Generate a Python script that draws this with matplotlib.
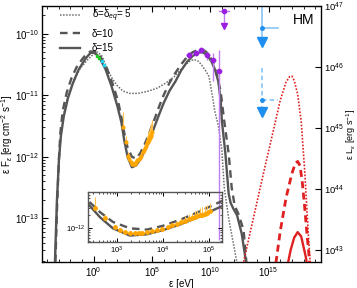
import numpy as np
import matplotlib
matplotlib.use("Agg")
import matplotlib.pyplot as plt
from matplotlib.ticker import FixedLocator, NullFormatter

plt.rcParams['font.family'] = ['Liberation Sans', 'DejaVu Sans']
plt.rcParams['mathtext.fontset'] = 'custom'
plt.rcParams['mathtext.rm'] = 'Liberation Sans'
plt.rcParams['mathtext.it'] = 'Liberation Sans:italic'
plt.rcParams['mathtext.bf'] = 'Liberation Sans:bold'

# ---------------- data (log10 values) ----------------
# model SED, delta = 15 (solid)
s15_lx = [-3.32, -3.15, -2.98, -2.81, -2.56, -2.21, -1.79, -1.28, -0.68, -0.26, 0.09, 0.51, 1.02, 1.53,
          2.04, 2.39, 2.63, 2.91, 3.28, 3.65, 4.0, 4.37, 4.74, 5.28, 5.62, 6.0, 6.5, 7.0, 7.5, 8.0, 8.5,
          9.0, 9.3, 9.7, 10.1, 10.4, 10.7, 10.9, 11.0, 11.3, 11.58, 11.75, 12.0, 12.3, 12.7, 13.1]
s15_ly = [-13.71, -12.71, -12.06, -11.66, -11.34, -11.05, -10.81, -10.58, -10.40, -10.31, -10.31, -10.39,
          -10.58, -10.85, -11.18, -11.45, -11.74, -12.0, -12.17, -12.14, -12.04, -11.91, -11.75, -11.48,
          -11.31, -11.13, -10.93, -10.78, -10.6, -10.46, -10.36, -10.31, -10.3, -10.34, -10.45, -10.58,
          -10.78, -11.1, -11.42, -11.95, -12.6, -12.75, -12.85, -12.95, -13.25, -13.75]
# delta = 10 (dashed)
s10_lx = [-3.28, -3.12, -2.97, -2.85, -2.65, -2.3, -1.9, -1.4, -0.8, -0.3, 0.1, 0.6, 1.1, 1.6, 2.1, 2.4,
          2.63, 2.91, 3.28, 3.65, 4.0, 4.37, 4.74, 5.28, 5.62, 6.0, 6.5, 7.0, 7.5, 8.0, 8.5, 9.0, 9.4, 9.8,
          10.2, 10.6, 10.9, 11.2, 11.58, 11.84, 12.1, 12.4, 12.86, 13.1]
s10_ly = [-13.71, -12.71, -12.0, -11.6, -11.25, -10.95, -10.72, -10.52, -10.37, -10.29, -10.29, -10.38,
          -10.55, -10.8, -11.1, -11.38, -11.62, -11.85, -12.0, -12.03, -11.94, -11.8, -11.63, -11.36,
          -11.18, -11.0, -10.8, -10.64, -10.5, -10.38, -10.3, -10.26, -10.26, -10.32, -10.45, -10.68,
          -10.95, -11.42, -11.95, -12.5, -12.8, -12.92, -13.19, -13.71]
# delta = delta_eq = 5 (dotted)
s5_lx = [-3.3, -3.1, -2.95, -2.8, -2.55, -2.2, -1.7, -1.1, -0.5, 0.0, 0.35, 0.7, 1.1, 1.5, 2.0, 2.5, 3.07,
         3.8, 4.77, 5.5, 6.2, 6.9, 7.5, 7.9, 8.3, 8.6, 9.0, 9.3, 9.6, 9.9, 10.22, 10.39, 10.7, 11.0, 11.2,
         11.58, 12.27]
s5_ly = [-13.71, -12.6, -12.0, -11.65, -11.3, -11.0, -10.75, -10.55, -10.42, -10.33, -10.3, -10.36, -10.54,
         -10.7, -10.84, -10.93, -10.97, -10.97, -10.93, -10.88, -10.8, -10.7, -10.58, -10.5, -10.44, -10.42,
         -10.45, -10.52, -10.6, -10.7, -11.05, -11.26, -11.5, -11.9, -12.5, -13.0, -13.7]

# neutrino luminosity (right axis)
nu5_lx = [12.8, 13.5, 14.5, 15.5, 16.0, 16.5, 16.8, 17.0, 17.2, 17.5, 17.8, 18.1, 18.4, 18.6]
nu5_ly = [42.75, 43.35, 44.2, 45.03, 45.45, 45.75, 45.84, 45.85, 45.78, 45.55, 45.11, 44.3, 43.3, 42.7]
nu10_lx = [15.5, 16.0, 16.5, 17.0, 17.3, 17.5, 17.7, 17.9, 18.1, 18.3, 18.5, 18.6]
nu10_ly = [42.6, 43.3, 43.85, 44.25, 44.42, 44.45, 44.38, 44.1, 43.7, 43.25, 42.85, 42.6]
nu15_lx = [16.6, 16.9, 17.2, 17.5, 17.8, 18.0, 18.2, 18.35]
nu15_ly = [42.72, 43.0, 43.2, 43.29, 43.22, 43.05, 42.88, 42.7]

# X-ray data (orange)
xr_lx = [2.52, 2.74, 2.95, 3.07, 3.17, 3.28, 3.39, 3.47, 3.54, 3.65, 3.76, 3.87, 3.98, 4.1, 4.2, 4.3,
         4.4, 4.48, 4.56, 4.63, 4.7, 4.74, 4.8, 4.85, 4.9, 4.96, 5.02]
xr_ly = [-11.52, -11.76, -11.98, -12.04, -12.09, -12.12, -12.11, -12.12, -12.11, -12.09, -12.06, -12.04,
         -12.02, -11.98, -11.93, -11.89, -11.85, -11.82, -11.78, -11.76, -11.73, -11.72, -11.69, -11.68,
         -11.66, -11.64, -11.6]
xr_eup = [0.25, 0.1, 0.05, 0.04, 0.03, 0.03, 0.03, 0.03, 0.03, 0.03, 0.03, 0.04, 0.04, 0.05, 0.06, 0.07,
          0.08, 0.1, 0.12, 0.12, 0.14, 0.15, 0.16, 0.17, 0.18, 0.19, 0.2]

# optical / UV points
opt_lx = [0.26, 0.42]
opt_ly = [-10.36, -10.40]
uv_lx = [0.7, 0.88]
uv_ly = [-10.45, -10.51]

# gamma-ray (purple)
gam_lx = [8.18, 8.77, 9.2, 9.71, 10.22, 10.73]
gam_ly = [-10.34, -10.31, -10.26, -10.35, -10.42, -10.61]
gam_edn = [0.05, 0.05, 0.05, 0.08, 0.35, 2.74]
gam_eup = [0.05, 0.05, 0.05, 0.06, 0.1, 0.35]
gam_ul_lx = 11.16
gam_ul_ly = -9.63
gam_ul_tip = -9.88

# neutrino upper limits (blue)
ic_lx, ic_lx2 = 14.4, 15.84
ic1_ly, ic1_top, ic1_tip = -9.9, -9.5, -10.13
ic2_ly, ic2_top, ic2_tip = -11.08, -10.56, -11.27

GREY = '#555555'
GREYD = '#6a6a6a'

fig = plt.figure(figsize=(3.57, 2.88), dpi=100)
ax = fig.add_axes([42/357, 26/288, 279/357, 256/288])
ax.set_xscale('log'); ax.set_yscale('log')
ax.set_xlim(10.0**-4.43, 10.0**19.5)
ax.set_ylim(10.0**-13.71, 10.0**-9.55)

def p(a):
    return 10.0**np.asarray(a, dtype=float)

def draw_models(a):
    a.plot(p(s5_lx), p(s5_ly), ls=(0, (1, 1)), color=GREYD, lw=1.1, label=r'δ=δ$_{eq}$= 5')
    a.plot(p(s10_lx), p(s10_ly), ls=(0, (3.2, 2.2)), color=GREY, lw=1.7, label='δ=10')
    a.plot(p(s15_lx), p(s15_ly), ls='-', color=GREY, lw=1.7, label='δ=15')

def draw_xray(a, ms):
    ly = np.asarray(xr_ly, dtype=float)
    a.errorbar(p(xr_lx), p(ly),
               yerr=[p(ly) - p(ly - 0.03), p(ly + np.asarray(xr_eup)) - p(ly)],
               fmt='o', ms=ms, color='#FFA500', ecolor='#FFC04D', elinewidth=0.8, capsize=0, zorder=3)

draw_models(ax)
draw_xray(ax, 2.0)
ax.plot(p(opt_lx), p(opt_ly), 's', ms=2.0, color='#22cc22', zorder=4)
ax.plot(p(uv_lx), p(uv_ly), 's', ms=2.0, color='#22d4f0', zorder=4)

# gamma rays
glx = np.asarray(gam_lx, dtype=float); gly = np.asarray(gam_ly, dtype=float)
gx = p(glx); gy = p(gly)
ax.errorbar(gx, gy,
            xerr=[gx - p(glx - 0.25), p(glx + 0.25) - gx],
            yerr=[gy - p(gly - np.asarray(gam_edn)), p(gly + np.asarray(gam_eup)) - gy],
            fmt='o', ms=3, color='#9a1fe0', ecolor='#c07ef0', elinewidth=1.0, capsize=0, zorder=5)
ax.plot(p([gam_ul_lx] * 2), p([gam_ul_ly, gam_ul_tip]), color='#c07ef0', lw=1.0)
ax.plot(p([gam_ul_lx - 0.45, gam_ul_lx + 0.45]), p([gam_ul_ly] * 2), color='#c07ef0', lw=1.0)
ax.plot(p([gam_ul_lx]), p([gam_ul_ly]), 'o', ms=3, color='#9a1fe0')
ax.plot(p([gam_ul_lx]), p([gam_ul_tip]), 'v', ms=4.5, color='#9a1fe0')

# IceCube upper limits
BLUE = '#1e8fef'
BLUEL = '#7cc0f5'
ax.plot(p([ic_lx] * 2), p([ic1_top, ic1_tip]), color=BLUEL, lw=1.1)
ax.plot(p([ic_lx, ic_lx2]), p([ic1_ly] * 2), color=BLUEL, lw=1.1)
ax.plot(p([ic_lx]), p([ic1_ly]), 'o', ms=2.5, color=BLUE)
ax.plot(p([ic_lx]), p([ic1_tip]), 'v', ms=7, color=BLUE)
ax.plot(p([ic_lx] * 2), p([ic2_top, ic2_tip]), color=BLUEL, lw=1.1, ls=(0, (3, 2)))
ax.plot(p([ic_lx, ic_lx2]), p([ic2_ly] * 2), color=BLUEL, lw=1.1, ls=(0, (3, 2)))
ax.plot(p([ic_lx]), p([ic2_ly]), 'o', ms=2.5, color=BLUE)
ax.plot(p([ic_lx]), p([ic2_tip]), 'v', ms=7, color=BLUE)

ax.text(0.936, 0.946, 'HM', transform=ax.transAxes, ha='center', va='center', fontsize=10)

leg = ax.legend(loc='upper left', bbox_to_anchor=(0.064, 0.992), frameon=False, fontsize=7,
                handlelength=2.1, handletextpad=1.2, labelspacing=0.45, borderpad=0, borderaxespad=0)

ax.xaxis.set_major_locator(FixedLocator([1e0, 1e5, 1e10, 1e15]))
ax.xaxis.set_minor_locator(FixedLocator([10.0**k for k in range(-4, 20)]))
ax.xaxis.set_minor_formatter(NullFormatter())
ax.yaxis.set_major_locator(FixedLocator([1e-13, 1e-12, 1e-11, 1e-10]))
ax.yaxis.set_minor_locator(FixedLocator([m * 10.0**k for k in range(-14, -9) for m in range(2, 10)]))
ax.yaxis.set_minor_formatter(NullFormatter())
ax.tick_params(which='both', direction='in', top=True, right=False, labelsize=7, pad=2)
ax.tick_params(which='major', length=4, width=0.8)
ax.tick_params(which='minor', length=2, width=0.6)
for s in ax.spines.values():
    s.set_color('#555555'); s.set_linewidth(1.0)
ax.set_xlabel('ε [eV]', fontsize=7, labelpad=0)
ax.set_ylabel('ε F$_ε$ [erg cm$^{-2}$ s$^{-1}$]', fontsize=7, labelpad=0)

# right axis (neutrino luminosity)
ax2 = ax.twinx()
ax2.set_yscale('log')
ax2.set_ylim(10.0**42.8, 10.0**47)
ax2.plot(p(nu5_lx), p(nu5_ly), ls=(0, (1, 1)), color='#e02020', lw=1.2)
ax2.plot(p(nu10_lx), p(nu10_ly), ls=(0, (2.5, 1.6)), color='#e02020', lw=2.0)
ax2.plot(p(nu15_lx), p(nu15_ly), ls='-', color='#e02020', lw=1.7)
ax2.yaxis.set_major_locator(FixedLocator([1e43, 1e44, 1e45, 1e46, 1e47]))
ax2.yaxis.set_minor_locator(FixedLocator([]))
ax2.tick_params(which='both', direction='in', labelsize=6.8, length=4, width=0.8, pad=2)
ax2.set_ylabel('ε L$_ε$ [erg s$^{-1}$]', fontsize=6.5)
ax2.yaxis.set_label_coords(1.083, 0.5)
ax2.set_xlim(ax.get_xlim())

# inset
axi = fig.add_axes([88/357, 46/288, 134/357, 50/288])
axi.set_facecolor('none')
axi.set_xscale('log'); axi.set_yscale('log')
axi.set_xlim(10.0**2.37, 10.0**5.28)
axi.set_ylim(10.0**-12.32, 10.0**-11.15)
draw_models(axi)
draw_xray(axi, 2.5)
axi.xaxis.set_major_locator(FixedLocator([1e3, 1e4, 1e5]))
axi.xaxis.set_minor_locator(FixedLocator([m * 10.0**k for k in range(2, 6) for m in range(2, 10)]))
axi.xaxis.set_minor_formatter(NullFormatter())
axi.yaxis.set_major_locator(FixedLocator([1e-12]))
axi.yaxis.set_minor_locator(FixedLocator([m * 10.0**k for k in range(-13, -11) for m in range(2, 10)]))
axi.yaxis.set_minor_formatter(NullFormatter())
axi.tick_params(which='both', direction='in', top=True, right=True, labelsize=5.5, pad=2)
axi.tick_params(which='major', length=3, width=0.7)
axi.tick_params(which='minor', length=1.5, width=0.5)
for s in axi.spines.values():
    s.set_color('#555555'); s.set_linewidth(1.0)

fig.savefig('out.png', dpi=100)
